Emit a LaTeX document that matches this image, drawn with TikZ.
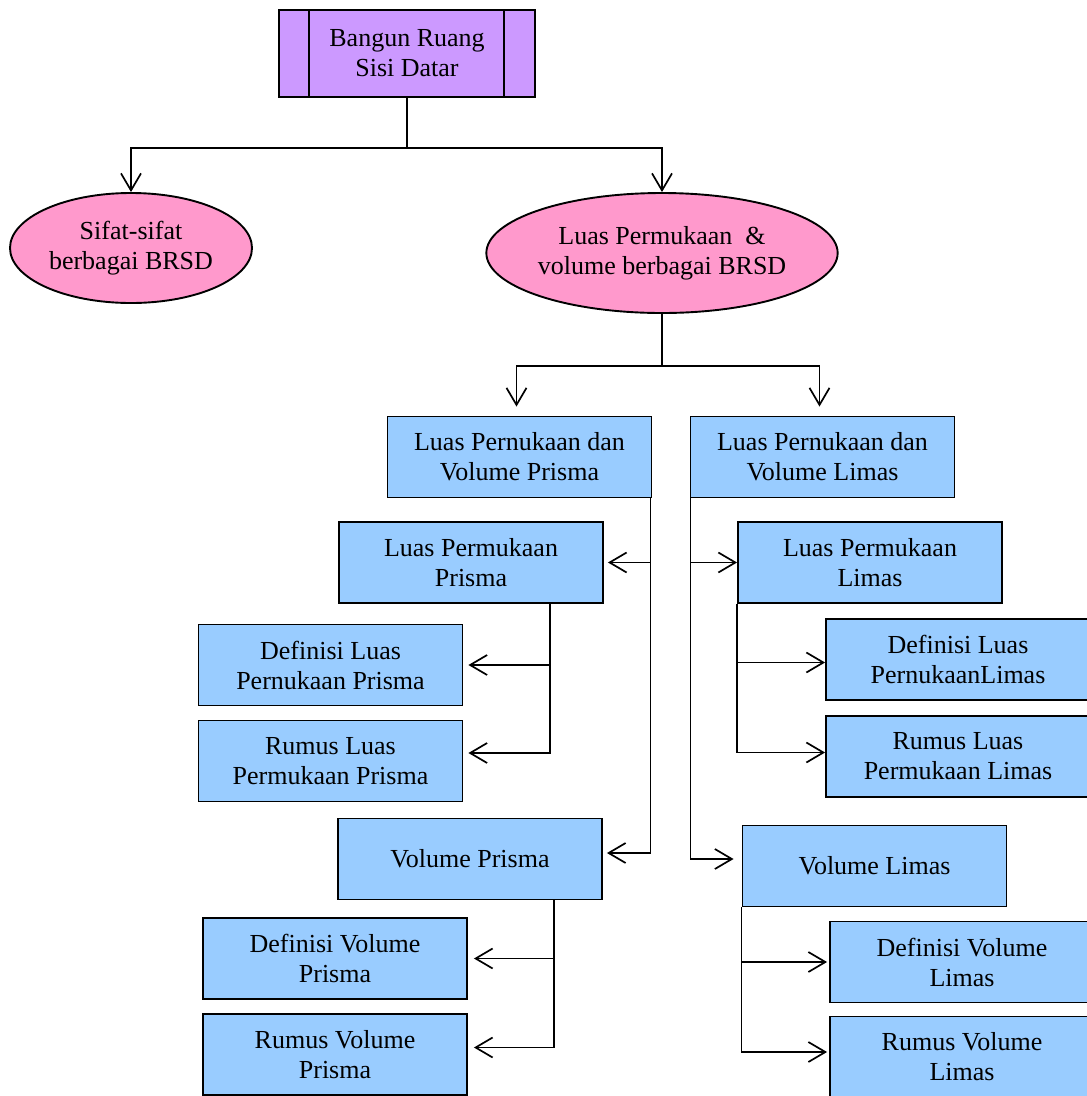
\documentclass[tikz,border=0pt]{standalone}
\usepackage{fontspec}
\setmainfont{Liberation Serif}
\usetikzlibrary{arrows.meta,shapes.geometric}

\definecolor{ungu}{HTML}{CC99FF}
\definecolor{merahmuda}{HTML}{FF99CC}
\definecolor{biru}{HTML}{99CCFF}

\tikzset{
  kotak/.style={draw, line width=1.9pt, fill=biru, minimum width=264pt,
    minimum height=81pt, inner sep=0pt, align=center},
  elips/.style={draw, ellipse, line width=1.9pt, fill=merahmuda, inner sep=0pt, align=center},
  judul/.style={draw, line width=1.9pt, fill=ungu, minimum width=256pt,
    minimum height=87pt, inner sep=0pt, align=center,
    path picture={
      \draw[line width=1.9pt] ([xshift=30pt]path picture bounding box.north west)
        -- ([xshift=30pt]path picture bounding box.south west);
      \draw[line width=1.9pt] ([xshift=-31pt]path picture bounding box.north east)
        -- ([xshift=-31pt]path picture bounding box.south east);
    }},
  panah/.style={line width=1.7pt, -{Straight Barb[length=17pt,width=20pt]}}
}

\begin{document}
\begin{tikzpicture}[x=1pt, y=-1pt, every node/.style={font=\fontsize{26}{30}\selectfont}]
  \useasboundingbox (0,0) rectangle (1087,1096);

  % Judul
  \node[judul] (brsd) at (407,53.5) {Bangun Ruang\\Sisi Datar};

  % --- cabang pertama ---
  \node[elips, minimum width=242pt, minimum height=110pt] (sifat) at (131,248)
    {Sifat-sifat\\berbagai BRSD};
  \node[elips, minimum width=337pt, minimum height=120pt] (luasvol) at (662,253)
    {Luas Permukaan \ \&\\volume berbagai BRSD};

  \draw[panah] (brsd.south) -- ++(0,50) -| (sifat.north);
  \draw[panah] (brsd.south) -- ++(0,50) -| (luasvol.north);

  % === Prisma dan Limas ===
  \node[kotak] (prisma) at (519.5,457) {Luas Pernukaan dan\\Volume Prisma};
  \node[kotak] (limas)  at (822.5,457) {Luas Pernukaan dan\\Volume Limas};

  \draw[panah, shorten >=9pt] (luasvol.south) -- ++(0,52) -| ([xshift=-3pt]prisma.north);
  \draw[panah, shorten >=9pt] (luasvol.south) -- ++(0,52) -| ([xshift=-3pt]limas.north);

  % === Kiri: prisma ===
  \node[kotak] (lpp)  at (471,562.5)  {Luas Permukaan\\Prisma};
  \node[kotak] (dlpp) at (330.5,665)  {Definisi Luas\\Pernukaan Prisma};
  \node[kotak] (rlpp) at (330.5,761)  {Rumus Luas\\Permukaan Prisma};
  \node[kotak] (vp)   at (470,859)    {Volume Prisma};
  \node[kotak] (dvp)  at (335,958.5)  {Definisi Volume\\Prisma};
  \node[kotak] (rvp)  at (335,1054.5) {Rumus Volume\\Prisma};

  \draw[panah, shorten >=4pt] ([xshift=-2pt]prisma.south east) |- (lpp.east);
  \draw[panah, shorten >=4pt] ([xshift=-2pt]prisma.south east) |- ([yshift=6pt]vp.east);

  \draw[panah, shorten >=5pt] ([xshift=79pt]lpp.south) |- (dlpp.east);
  \draw[panah, shorten >=5pt] ([xshift=79pt]lpp.south) |- ([yshift=8pt]rlpp.east);

  \draw[panah, shorten >=6pt] ([xshift=84pt]vp.south) |- (dvp.east);
  \draw[panah, shorten >=6pt] ([xshift=84pt]vp.south) |- ([yshift=7pt]rvp.east);

  % === Kanan: limas ===
  \node[kotak] (lpl)  at (870,562.5)  {Luas Permukaan\\Limas};
  \node[kotak] (dlpl) at (958,659.5)  {Definisi Luas\\PernukaanLimas};
  \node[kotak] (rlpl) at (958,756.5)  {Rumus Luas\\Permukaan Limas};
  \node[kotak] (vl)   at (874.5,866)  {Volume Limas};
  \node[kotak] (dvl)  at (962,962)    {Definisi Volume\\Limas};
  \node[kotak] (rvl)  at (962,1057)   {Rumus Volume\\Limas};

  \draw[panah] ([xshift=1pt]limas.south west) |- (lpl.west);
  \draw[panah, shorten >=8pt] ([xshift=1pt]limas.south west) |- ([yshift=7pt]vl.west);

  \draw[panah] (lpl.south west) |- ([yshift=-3pt]dlpl.west);
  \draw[panah] (lpl.south west) |- ([yshift=4pt]rlpl.west);

  \draw[panah, shorten >=2pt] (vl.south west) |- (dvl.west);
  \draw[panah, shorten >=2pt] (vl.south west) |- ([yshift=5pt]rvl.west);
\end{tikzpicture}
\end{document}
